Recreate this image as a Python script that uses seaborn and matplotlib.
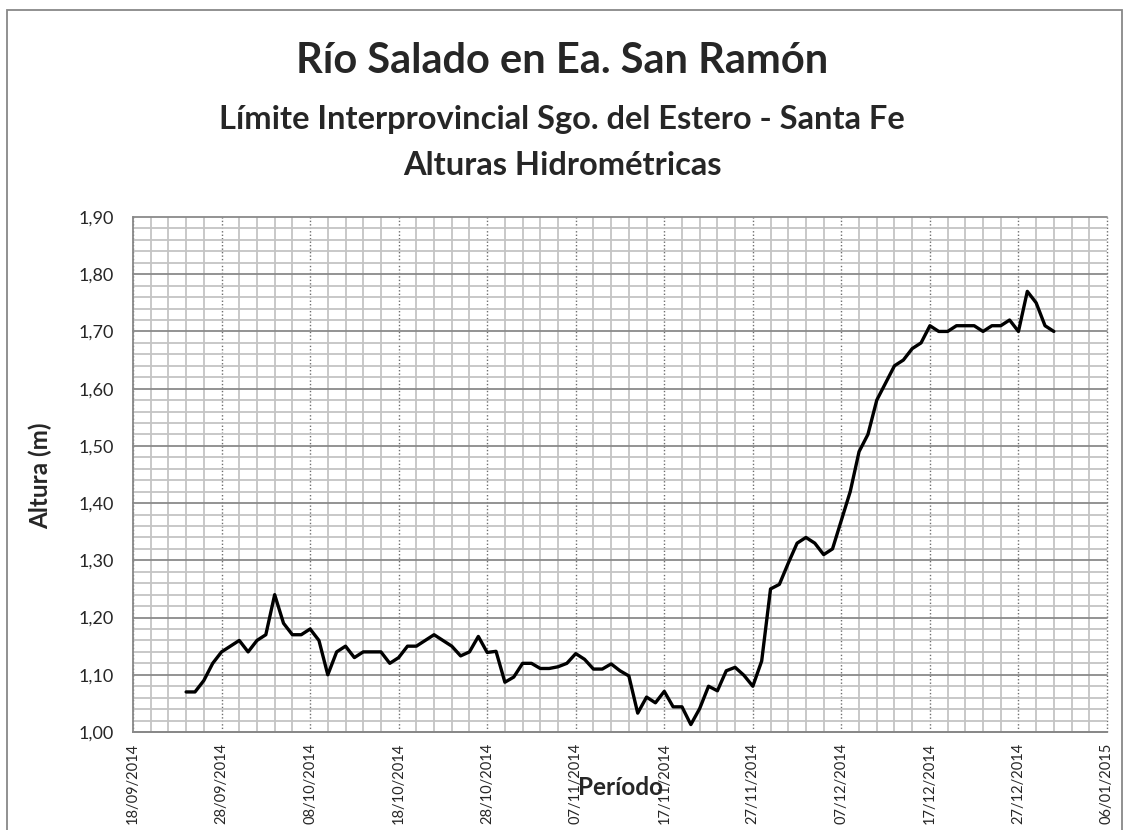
import pandas as pd
import numpy as np
import matplotlib
matplotlib.use("Agg")
import matplotlib.pyplot as plt
import matplotlib.dates as mdates
from matplotlib.ticker import FixedLocator, FuncFormatter, MultipleLocator
import seaborn as sns

# Datos: alturas diarias (m), 24/09/2014 - 31/12/2014
fecha_inicio = "2014-09-24"
fecha_fin = "2014-12-31"
alturas = [
    1.07, 1.07, 1.09, 1.12, 1.14, 1.15, 1.16,                      # sep
    1.14, 1.16, 1.17, 1.24, 1.19, 1.17, 1.17, 1.18, 1.16, 1.10,    # oct 1-10
    1.14, 1.15, 1.13, 1.14, 1.14, 1.14, 1.12, 1.13, 1.15, 1.15,    # oct 11-20
    1.16, 1.17, 1.16, 1.15, 1.133, 1.14, 1.167, 1.139, 1.141, 1.087, 1.096,  # oct 21-31
    1.12, 1.12, 1.111, 1.111, 1.114, 1.12, 1.137, 1.127, 1.11, 1.11,  # nov 1-10
    1.119, 1.107, 1.098, 1.033, 1.061, 1.051, 1.071, 1.044, 1.044, 1.013,  # nov 11-20
    1.041, 1.08, 1.072, 1.107, 1.113, 1.099, 1.08, 1.124, 1.25, 1.258,  # nov 21-30
    1.295, 1.33, 1.34, 1.33, 1.31, 1.32, 1.37, 1.42, 1.49, 1.52,   # dic 1-10
    1.58, 1.61, 1.64, 1.65, 1.67, 1.68, 1.71, 1.70, 1.70, 1.71,    # dic 11-20
    1.71, 1.71, 1.70, 1.71, 1.71, 1.72, 1.70, 1.77, 1.75, 1.71, 1.70,  # dic 21-31
]
eje_inicio = "2014-09-18"
eje_fin = "2015-01-06"

titulo = "Río Salado en Ea. San Ramón"
subtitulo = "Límite Interprovincial Sgo. del Estero - Santa Fe"
subtitulo2 = "Alturas Hidrométricas"

df = pd.DataFrame({"fecha": pd.date_range(fecha_inicio, fecha_fin, freq="D"),
                   "altura": alturas})

sns.set_style("white")
plt.rcParams["font.family"] = ["Lato", "DejaVu Sans"]

fig = plt.figure(figsize=(11.24, 8.3), dpi=100)
ax = fig.add_axes([133 / 1124, 1 - 732 / 830, 974 / 1124, 515 / 830])

sns.lineplot(data=df, x="fecha", y="altura", color="black", linewidth=2.4, ax=ax)

# ejes
ax.set_xlim(mdates.date2num(pd.Timestamp(eje_inicio)), mdates.date2num(pd.Timestamp(eje_fin)))
ax.set_ylim(1.0, 1.9)
mayores = mdates.date2num(pd.date_range(eje_inicio, eje_fin, freq="10D"))
menores = mdates.date2num(pd.date_range(eje_inicio, eje_fin, freq="2D"))
ax.xaxis.set_major_locator(FixedLocator(mayores))
ax.xaxis.set_minor_locator(FixedLocator(menores))
ax.xaxis.set_major_formatter(mdates.DateFormatter("%d/%m/%Y"))
ax.yaxis.set_major_locator(MultipleLocator(0.1))
ax.yaxis.set_minor_locator(MultipleLocator(0.02))
ax.yaxis.set_major_formatter(FuncFormatter(lambda v, _: f"{v:.2f}".replace(".", ",")))

ax.grid(which="minor", color="#c4c4c4", linewidth=1.3)
ax.grid(which="major", axis="y", color="#8a8a8a", linewidth=1.3)
ax.grid(which="major", axis="x", color="#6e6e6e", linewidth=1.0, linestyle=(0, (1, 1.5)))
ax.set_axisbelow(True)
for g in ax.get_xgridlines() + ax.get_ygridlines():
    g.set_clip_on(False)

for lado in ["top", "right"]:
    ax.spines[lado].set_visible(False)
for lado in ["left", "bottom"]:
    ax.spines[lado].set_color("#888888")
    ax.spines[lado].set_linewidth(1.3)

ax.tick_params(axis="y", which="major", length=5, width=1.2, color="#888888",
               labelsize=13, labelcolor="#262626", pad=9)
ax.tick_params(axis="x", which="major", length=5, width=1.0, color="#888888",
               labelsize=10.5, labelcolor="#262626", labelrotation=90, pad=3)
ax.tick_params(which="minor", length=0)

ax.set_xlabel("")
ax.set_ylabel("")
fig.text(40 / 1124, 1 - 476 / 830, "Altura (m)", rotation=90, ha="center", va="center",
         fontsize=17.5, fontweight="bold")
fig.text(620 / 1124, 1 - 787 / 830, "Período", ha="center", va="center",
         fontsize=17.5, fontweight="bold")

# títulos
fig.text(0.5, 1 - 73 / 830, titulo, ha="center", va="baseline", fontsize=30, fontweight="bold")
fig.text(0.5, 1 - 129 / 830, subtitulo, ha="center", va="baseline", fontsize=23.5, fontweight="bold")
fig.text(0.5, 1 - 175 / 830, subtitulo2, ha="center", va="baseline", fontsize=23.5, fontweight="bold")

# borde del área del gráfico
fig.patches.append(plt.Rectangle((7 / 1124, -0.01), 1115 / 1124, 1 - 10 / 830 + 0.01,
                                 transform=fig.transFigure, fill=False,
                                 edgecolor="#888888", linewidth=1.3))

fig.savefig("out.png", dpi=100, facecolor="white")
